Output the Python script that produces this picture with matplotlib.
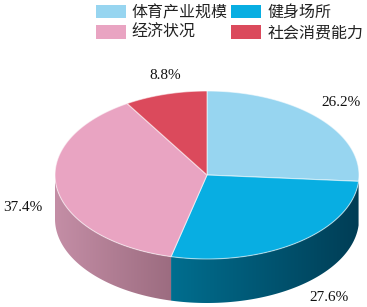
import numpy as np
import matplotlib
matplotlib.use("Agg")
import matplotlib.pyplot as plt
from matplotlib.patches import Polygon, Patch

plt.rcParams['font.family'] = ['Noto Sans CJK SC', 'DejaVu Sans']

# data
categories = ["体育产业规模", "健身场所", "经济状况", "社会消费能力"]
values = [26.2, 27.6, 37.4, 8.8]
labels = ["26.2%", "27.6%", "37.4%", "8.8%"]
top_colors = ["#97d5f0", "#08aee2", "#e9a4c2", "#db4a5c"]
side_light = ["#7fb6cf", "#006e8f", "#c48ea6", "#b93d4d"]
side_dark = ["#5d8ea5", "#003d55", "#9c6c80", "#8f2f3b"]
# small nudges for the percent labels (pixels)
label_dx = [0, 15, -4, 8]
label_dy = [-1, 2, 9, 2]

W, H = 367, 307
fig = plt.figure(figsize=(W / 100, H / 100), dpi=100)
ax = fig.add_axes([0, 0, 1, 1])
ax.axis('off')

# pie geometry (pixels)
cx, cy = 207, 175
a, b = 152, 84
depth = 44

fracs = np.array(values) / sum(values)
ends = np.cumsum(fracs) * 2 * np.pi
starts = ends - fracs * 2 * np.pi

def pt(t, dy=0):
    # t: clockwise angle from 12 o'clock
    return cx + a * np.sin(t), cy - b * np.cos(t) + dy

# side walls (visible front half: pi/2 .. 3pi/2), horizontal gradient
for i in range(len(values)):
    t0 = max(starts[i], np.pi / 2)
    t1 = min(ends[i], 3 * np.pi / 2)
    if t1 <= t0:
        continue
    ts = np.linspace(t0, t1, 200)
    top = [pt(t) for t in ts]
    bot = [pt(t, depth) for t in ts[::-1]]
    poly = Polygon(top + bot, closed=True, facecolor='none', edgecolor='none')
    ax.add_patch(poly)
    xs = [p[0] for p in top]
    xmin, xmax = min(xs), max(xs)
    ymin = min(p[1] for p in top) - 1
    ymax = max(p[1] for p in bot) + 1
    c1 = np.array(matplotlib.colors.to_rgb(side_light[i]))
    c2 = np.array(matplotlib.colors.to_rgb(side_dark[i]))
    f = np.linspace(0, 1, 256)[:, None]
    grad = (c1 + (c2 - c1) * f)[None, :, :]
    im = ax.imshow(grad, extent=(xmin, xmax + 0.5, ymax, ymin), aspect='auto',
                   interpolation='bilinear', zorder=1)
    im.set_clip_path(poly)

# top faces
for i in range(len(values)):
    ts = np.linspace(starts[i], ends[i], 200)
    poly = [(cx, cy)] + [pt(t) for t in ts]
    ax.add_patch(Polygon(poly, closed=True, facecolor=top_colors[i],
                         edgecolor=(1, 1, 1, 0.55), lw=0.8, joinstyle='round', zorder=2))

# percent labels
for i in range(len(values)):
    m = (starts[i] + ends[i]) / 2
    lx = cx + a * 1.2 * np.sin(m)
    ly = cy - b * 1.25 * np.cos(m)
    if np.cos(m) < 0:
        ly += depth * -np.cos(m)
    ax.text(lx + label_dx[i], ly + label_dy[i], labels[i], ha='center', va='center',
            fontsize=11, family=['Liberation Serif', 'DejaVu Serif'], color='#111111')

ax.set_xlim(0, W)
ax.set_ylim(H, 0)

# legend
handles = [Patch(facecolor=c, edgecolor='none') for c in top_colors]
order = [0, 2, 1, 3]
fig.legend([handles[j] for j in order], [categories[j] for j in order],
           ncol=2, loc='upper left', bbox_to_anchor=(96 / W, 1 - 4 / H),
           frameon=False, fontsize=11.5, handlelength=1.85, handleheight=0.95,
           handletextpad=0.4, columnspacing=0.2, labelspacing=0.2,
           borderpad=0, borderaxespad=0, labelcolor='#222222')

fig.savefig("out.png", dpi=100)
